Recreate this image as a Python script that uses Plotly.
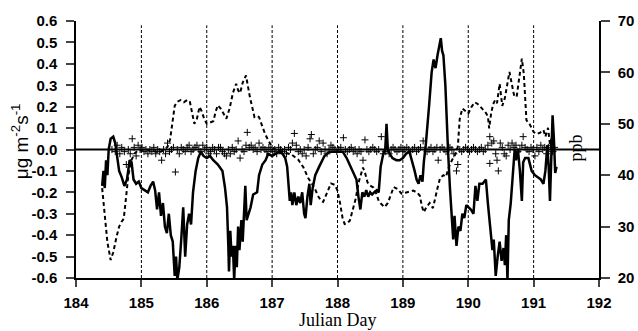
import plotly.graph_objects as go

# ---- Data ----
flux_day = [184.40,184.42,184.44,184.46,184.48,184.50,184.53,184.57,184.60,184.63,184.66,184.70,184.74,184.78,184.82,184.85,184.88,184.92,184.96,185.00,
            185.05,185.10,185.14,185.18,185.21,185.24,185.27,185.30,185.33,185.36,185.39,185.42,185.45,185.48,185.51,185.53,185.55,185.58,185.61,185.64,
            185.67,185.70,185.73,185.76,185.79,185.83,185.87,185.91,185.95,186.00,186.05,186.10,186.17,186.24,186.28,186.31,186.33,186.34,186.36,186.38,
            186.40,186.42,186.44,186.46,186.48,186.50,186.53,186.55,186.57,186.59,186.61,186.64,186.67,186.71,186.77,186.80,186.85,186.90,186.94,187.00,
            187.05,187.10,187.16,187.20,187.23,187.25,187.27,187.29,187.31,187.34,187.37,187.40,187.43,187.46,187.49,187.51,187.54,187.57,187.59,187.62,
            187.66,187.72,187.80,187.88,188.00,188.08,188.14,188.20,188.25,188.29,188.32,188.35,188.38,188.41,188.44,188.47,188.50,188.53,188.56,188.60,
            188.63,188.66,188.70,188.73,188.75,188.77,188.80,188.84,188.90,188.95,189.00,189.05,189.10,189.14,189.18,189.21,189.24,189.27,189.30,189.32,
            189.35,189.40,189.44,189.47,189.50,189.53,189.56,189.58,189.60,189.62,189.65,189.67,189.69,189.72,189.75,189.77,189.79,189.82,189.85,189.88,
            189.91,189.94,189.97,190.00,190.04,190.08,190.11,190.14,190.17,190.22,190.27,190.30,190.34,190.37,190.39,190.42,190.45,190.48,190.51,190.54,
            190.56,190.58,190.60,190.62,190.65,190.68,190.71,190.73,190.76,190.79,190.82,190.84,190.87,190.92,190.97,191.02,191.07,191.11,191.15,191.18,
            191.21,191.23,191.25,191.27,191.29,191.31,191.33,191.35]
flux_val = [-0.17,-0.10,-0.18,-0.05,-0.12,0.00,0.05,0.06,0.03,-0.05,-0.10,-0.13,-0.17,-0.14,-0.05,-0.06,-0.14,-0.16,-0.15,-0.18,
            -0.19,-0.20,-0.17,-0.15,-0.19,-0.28,-0.20,-0.31,-0.25,-0.36,-0.39,-0.30,-0.40,-0.43,-0.59,-0.50,-0.61,-0.55,-0.42,-0.27,
            -0.50,-0.35,-0.30,-0.35,-0.20,-0.10,-0.04,-0.01,-0.03,-0.04,-0.03,-0.05,-0.07,-0.10,-0.18,-0.27,-0.45,-0.57,-0.38,-0.50,
            -0.45,-0.61,-0.45,-0.55,-0.36,-0.47,-0.33,-0.43,-0.30,-0.17,-0.33,-0.30,-0.27,-0.21,-0.20,-0.12,-0.07,-0.05,-0.02,-0.03,
            -0.02,-0.01,-0.02,-0.04,-0.08,-0.17,-0.24,-0.20,-0.26,-0.20,-0.26,-0.22,-0.25,-0.20,-0.30,-0.32,-0.22,-0.16,-0.26,-0.18,
            -0.12,-0.08,-0.03,-0.01,-0.01,-0.01,-0.04,-0.08,-0.11,-0.14,-0.22,-0.28,-0.20,-0.22,-0.19,-0.22,-0.20,-0.21,-0.20,-0.19,
            -0.20,-0.08,-0.02,0.00,0.12,0.00,-0.02,-0.04,-0.05,-0.05,-0.04,-0.02,-0.01,-0.05,-0.10,-0.14,-0.16,-0.12,-0.15,-0.06,
            0.02,0.20,0.36,0.42,0.38,0.44,0.50,0.52,0.46,0.44,0.30,0.10,0.00,-0.18,-0.30,-0.42,-0.31,-0.45,-0.36,-0.38,
            -0.30,-0.32,-0.26,-0.27,-0.28,-0.30,-0.17,-0.24,-0.16,-0.16,-0.14,-0.25,-0.36,-0.47,-0.42,-0.59,-0.50,-0.43,-0.52,-0.46,
            -0.54,-0.40,-0.61,-0.33,-0.25,-0.12,0.00,-0.05,0.00,-0.10,-0.24,-0.06,-0.04,-0.04,-0.10,-0.12,-0.13,-0.14,-0.16,-0.10,
            0.02,-0.08,-0.24,-0.05,0.16,0.05,-0.11,-0.08]

ppb_day = [184.40,184.44,184.48,184.53,184.57,184.62,184.66,184.70,184.73,184.76,184.80,184.85,184.90,184.95,185.00,185.05,185.10,185.15,185.20,185.25,
           185.30,185.35,185.40,185.44,185.48,185.51,185.55,185.60,185.65,185.70,185.74,185.78,185.81,185.85,185.89,185.92,185.96,186.00,186.05,186.10,
           186.14,186.17,186.21,186.25,186.30,186.35,186.40,186.45,186.48,186.51,186.55,186.60,186.63,186.66,186.70,186.73,186.77,186.80,186.85,186.89,
           186.94,187.00,187.05,187.10,187.20,187.30,187.40,187.48,187.55,187.60,187.65,187.70,187.75,187.78,187.82,187.86,187.90,187.96,188.00,188.04,
           188.08,188.11,188.15,188.19,188.24,188.28,188.32,188.36,188.39,188.42,188.46,188.50,188.55,188.59,188.63,188.67,188.72,188.77,188.82,188.86,
           188.92,188.98,189.04,189.10,189.16,189.22,189.26,189.29,189.32,189.36,189.41,189.46,189.49,189.53,189.57,189.62,189.66,189.70,189.75,189.80,
           189.84,189.87,189.91,189.95,190.00,190.05,190.10,190.15,190.20,190.26,190.30,190.32,190.35,190.38,190.41,190.44,190.48,190.52,190.56,190.60,
           190.63,190.67,190.70,190.74,190.77,190.80,190.82,190.85,190.87,190.89,190.94,191.00,191.05,191.10,191.15,191.18,191.22,191.25,191.28,191.31,
           191.34]
ppb_val = [37.5,32.0,27.0,23.5,25.0,28.0,30.0,31.0,31.5,35.0,40.0,43.0,44.3,44.8,45.0,44.8,45.0,44.8,44.6,44.5,
           44.6,45.0,45.5,47.0,51.0,53.5,54.3,54.6,54.2,54.6,54.4,52.0,50.0,51.0,53.3,52.5,51.0,50.0,50.2,50.5,
           52.5,53.6,53.0,52.0,51.0,53.0,56.0,57.8,56.5,56.0,58.0,59.4,57.0,55.2,53.0,51.3,51.5,51.3,49.5,48.1,
           46.8,45.5,45.0,44.8,44.5,44.0,43.0,41.5,39.5,38.4,37.5,36.0,35.0,34.8,36.0,37.5,38.4,38.1,37.0,34.5,
           31.5,30.5,30.6,31.2,33.5,35.5,38.5,40.5,41.5,40.5,38.6,38.0,37.6,36.5,35.0,34.4,33.8,34.6,36.5,37.7,
           37.3,36.4,36.6,36.8,37.0,36.6,36.0,34.0,32.8,33.8,34.6,33.6,35.5,37.5,39.5,40.0,39.7,41.5,42.9,44.0,
           45.5,51.0,53.0,52.5,52.0,53.3,54.2,53.8,53.2,52.3,51.5,49.1,52.0,53.8,54.6,54.0,57.8,53.5,55.0,57.5,
           60.1,57.5,55.6,55.2,58.0,61.0,62.7,59.7,55.0,50.7,49.9,48.4,48.0,48.3,48.8,47.5,49.2,46.0,47.5,45.5,
           44.5]

plus_day = [184.55,184.60,184.63,184.67,184.70,184.74,184.77,184.80,184.83,184.86,184.89,184.92,184.95,184.98,185.01,185.04,185.07,185.10,185.13,185.16,
            185.19,185.22,185.25,185.28,185.31,185.34,185.37,185.40,185.43,185.46,185.49,185.52,185.55,185.58,185.61,185.64,185.67,185.70,185.73,185.76,
            185.79,185.82,185.85,185.88,185.91,185.94,185.97,186.00,186.03,186.06,186.09,186.12,186.15,186.18,186.21,186.24,186.27,186.30,186.33,186.36,
            186.39,186.42,186.45,186.48,186.51,186.54,186.57,186.60,186.62,186.65,186.68,186.71,186.74,186.77,186.80,186.83,186.86,186.89,186.92,186.95,
            186.98,187.01,187.04,187.07,187.10,187.13,187.16,187.19,187.22,187.25,187.28,187.31,187.34,187.37,187.40,187.43,187.46,187.49,187.52,187.55,
            187.58,187.60,187.63,187.66,187.69,187.72,187.75,187.78,187.81,187.84,187.87,187.90,187.93,187.96,187.99,188.02,188.05,188.09,188.12,188.15,
            188.18,188.21,188.24,188.27,188.30,188.33,188.36,188.39,188.42,188.45,188.48,188.51,188.54,188.57,188.60,188.63,188.67,188.70,188.73,188.76,
            188.79,188.82,188.85,188.88,188.91,188.94,188.97,189.00,189.03,189.06,189.09,189.12,189.15,189.18,189.21,189.24,189.27,189.31,189.34,189.37,
            189.40,189.43,189.46,189.49,189.52,189.54,189.57,189.60,189.63,189.66,189.69,189.72,189.75,189.78,189.82,189.84,189.87,189.90,189.93,189.96,
            189.99,190.02,190.05,190.08,190.11,190.14,190.17,190.20,190.23,190.26,190.30,190.33,190.33,190.36,190.39,190.42,190.44,190.46,190.49,190.52,
            190.55,190.58,190.61,190.64,190.67,190.70,190.73,190.76,190.79,190.82,190.84,190.87,190.90,190.93,190.96,190.99,191.02,191.05,191.08,191.11,
            191.14,191.17,191.20,191.23,191.26,191.29,191.32]
plus_val = [0.00,-0.01,0.02,-0.02,0.01,-0.01,-0.07,0.00,-0.02,0.05,0.01,-0.03,0.02,0.00,0.01,-0.01,0.00,-0.02,0.00,-0.01,
            0.01,-0.02,0.00,-0.01,-0.05,0.00,-0.02,0.03,-0.01,0.00,0.01,-0.105,0.00,-0.02,0.01,0.00,-0.01,0.01,0.02,-0.01,
            0.00,0.01,0.02,0.00,-0.01,0.02,0.00,0.01,-0.02,-0.01,0.01,0.00,-0.02,0.01,0.01,-0.01,-0.02,-0.03,0.00,-0.02,
            0.01,-0.01,0.00,0.04,-0.04,0.00,-0.01,0.02,0.08,0.01,0.02,0.00,0.01,-0.01,0.03,0.00,0.01,0.00,-0.01,0.01,
            0.00,-0.01,0.00,-0.02,0.01,0.00,-0.01,0.00,-0.02,0.01,0.00,0.03,0.075,0.02,-0.01,0.00,-0.02,0.00,-0.03,0.01,
            0.05,0.07,-0.02,0.00,0.01,0.04,-0.01,0.03,0.00,-0.02,0.00,0.02,0.01,0.00,-0.01,0.00,0.01,0.055,0.00,-0.01,
            0.00,0.01,-0.01,0.00,-0.02,0.00,-0.01,-0.05,0.045,0.00,-0.01,0.00,0.01,0.00,-0.01,0.00,0.06,-0.02,-0.01,0.00,
            -0.02,0.00,0.01,0.00,-0.01,0.00,0.01,-0.01,0.00,0.01,0.00,-0.01,0.00,0.01,-0.01,0.00,0.01,0.04,0.00,-0.01,
            0.00,0.01,-0.01,0.00,0.01,-0.05,0.00,0.01,0.00,-0.01,0.00,0.01,0.00,-0.02,-0.10,-0.07,0.00,-0.01,0.00,0.01,
            0.00,-0.01,0.00,0.01,0.00,-0.01,0.00,0.01,-0.01,0.00,0.02,0.06,-0.065,0.03,0.04,-0.02,-0.05,-0.10,0.03,0.01,
            -0.02,-0.03,0.02,0.00,0.03,0.01,0.02,-0.01,0.00,0.02,0.06,0.01,0.00,-0.01,0.01,0.00,-0.03,0.01,-0.01,0.02,
            0.00,0.01,-0.02,0.01,0.02,-0.01,0.01]

day_ticks = [184, 185, 186, 187, 188, 189, 190, 191, 192]
day_lines = [185, 186, 187, 188, 189, 190, 191]
left_ticks = [0.6, 0.5, 0.4, 0.3, 0.2, 0.1, 0.0, -0.1, -0.2, -0.3, -0.4, -0.5, -0.6]
left_labels = ["0.6", "0.5", "0.4", "0.3", "0.2", "0.1", "0.0", "-0.1", "-0.2", "-0.3", "-0.4", "-0.5", "-0.6"]
right_ticks = [20, 30, 40, 50, 60, 70]

tickfont = dict(family="Liberation Sans, Arial, sans-serif", size=15, color="black", weight="bold")

fig = go.Figure()

fig.add_trace(go.Scatter(x=ppb_day, y=ppb_val, yaxis="y2", mode="lines",
                         line=dict(color="black", width=2, dash="4px,3px"), showlegend=False))
fig.add_trace(go.Scatter(x=plus_day, y=plus_val, mode="markers",
                         marker=dict(symbol="cross-thin", size=5, color="black",
                                     line=dict(color="black", width=1)), showlegend=False))
fig.add_trace(go.Scatter(x=flux_day, y=flux_val, mode="lines",
                         line=dict(color="black", width=2.5), showlegend=False))

shapes = []
for d in day_lines:
    shapes.append(dict(type="line", xref="x", yref="y", x0=d, x1=d, y0=-0.6, y1=0.58,
                       line=dict(color="black", width=1, dash="3px,2px"), layer="below"))
shapes.append(dict(type="line", xref="paper", yref="y", x0=0, x1=1, y0=0, y1=0,
                   line=dict(color="black", width=2)))
fig.update_layout(shapes=shapes)

fig.update_layout(
    width=638, height=331,
    margin=dict(l=76, r=39, t=21, b=53, autoexpand=False),
    paper_bgcolor="white", plot_bgcolor="white",
    xaxis=dict(range=[184, 192], tickvals=day_ticks, ticks="outside", ticklen=7, tickwidth=1.5,
               showline=True, linecolor="black", linewidth=1.5, showgrid=False, zeroline=False,
               tickfont=tickfont, ticklabelstandoff=3),
    yaxis=dict(range=[-0.6, 0.6], tickvals=left_ticks, ticktext=left_labels, ticks="outside",
               ticklen=8, tickwidth=1.5, showline=True, linecolor="black", linewidth=1.5,
               showgrid=False, zeroline=False, tickfont=tickfont, ticklabelstandoff=6),
    yaxis2=dict(range=[20, 70], tickvals=right_ticks, overlaying="y", side="right", ticks="outside",
                ticklen=9, tickwidth=1.5, showline=True, linecolor="black", linewidth=1.5,
                showgrid=False, zeroline=False, tickfont=tickfont, ticklabelstandoff=5),
    annotations=[
        dict(text="Julian Day", xref="paper", yref="paper", x=0.5, y=-0.206, xanchor="center",
             yanchor="bottom", showarrow=False, borderpad=0,
             font=dict(family="Liberation Serif, Times New Roman, serif", size=18, color="black")),
        dict(text="μg m<sup>-2</sup>s<sup>-1</sup>", xref="paper", yref="paper", x=-0.108, y=0.53,
             xanchor="center", yanchor="middle", textangle=-90, showarrow=False,
             font=dict(family="Liberation Sans, Arial, sans-serif", size=19, color="black")),
        dict(text="ppb", xref="paper", yref="paper", x=0.955, y=0.506, xanchor="center",
             yanchor="middle", textangle=-90, showarrow=False,
             font=dict(family="Liberation Serif, Times New Roman, serif", size=18, color="black")),
    ],
)

fig.write_html("out.html")
